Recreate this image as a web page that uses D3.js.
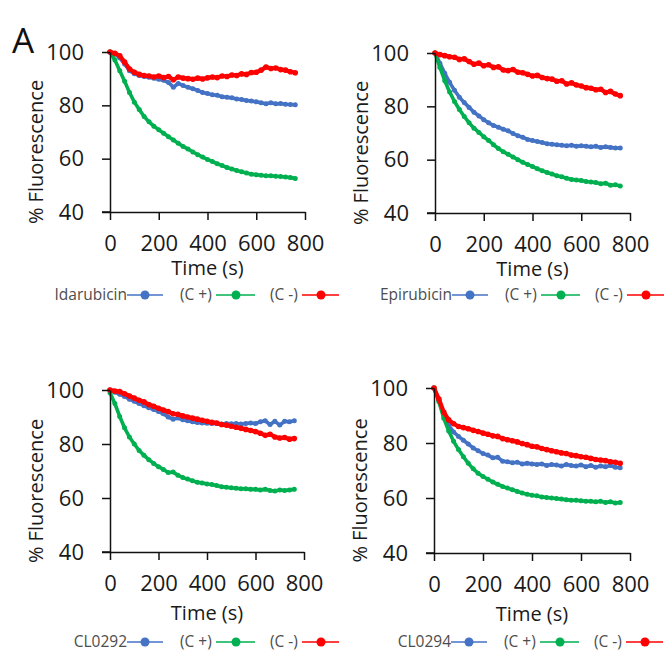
<!DOCTYPE html>
<html><head><meta charset="utf-8">
<script src="https://cdn.jsdelivr.net/npm/d3@7"></script>
<style>body{margin:0;background:#fff}svg{display:block}</style></head>
<body>
<svg id="c" width="664" height="663"></svg>
<script>
// ---- data ----
const timeS = [0,20,40,60,80,100,120,140,160,180,200,220,240,260,280,300,320,340,360,380,400,420,440,460,480,500,520,540,560,580,600,620,640,660,680,700,720,740,760];
const xTicks = [0,200,400,600,800];
const yTicks = [40,60,80,100];
const drugNames = ["Idarubicin","Epirubicin","CL0292","CL0294"];
const controlNames = ["(C +)","(C -)"];

const idarubicin = [100,99.3,97.8,95.5,93.0,91.8,91.2,90.8,90.5,90.2,89.8,89.4,88.6,86.8,88.2,87.4,86.8,86.2,85.6,84.8,84.4,84.0,83.8,83.2,83.0,82.8,82.4,82.2,81.8,81.6,81.3,81.0,80.6,81.0,80.6,80.7,80.4,80.3,80.2];
const idaPos = [100,97.0,93.0,89.0,84.8,81.2,78.4,75.8,73.8,72.2,70.8,69.5,68.2,67.0,65.8,64.6,63.6,62.5,61.5,60.6,59.7,58.9,58.1,57.4,56.7,56.1,55.6,55.1,54.6,54.2,54.0,53.8,53.6,53.6,53.4,53.3,53.1,52.9,52.6];
const idaNeg = [100,99.5,98.6,96.2,93.6,92.4,91.6,91.2,91.0,90.6,91.0,90.4,90.8,89.6,90.6,90.2,90.0,89.8,90.2,89.9,90.3,90.6,90.4,91.0,90.8,91.4,91.2,91.8,91.6,92.3,92.4,93.2,94.4,93.8,94.0,93.4,93.2,92.6,92.2];

const epirubicin = [100,96.2,92.4,89.0,86.0,83.4,81.4,79.6,77.8,76.4,75.0,73.8,72.8,72.2,71.4,70.8,69.8,69.0,68.4,67.6,67.2,66.8,66.4,66.0,65.8,65.6,65.4,65.2,65.4,65.0,65.2,65.0,64.8,65.0,64.6,64.8,64.6,64.4,64.4];
const epiPos = [100,94.6,89.6,85.4,81.8,78.8,76.2,73.8,71.8,70.2,68.6,67.2,65.6,64.2,63.0,62.0,61.0,60.0,59.0,58.2,57.4,56.6,55.8,55.2,54.6,54.0,53.6,53.0,52.6,52.4,52.2,51.8,51.6,51.4,51.0,51.2,50.4,50.6,50.1];
const epiNeg = [100,99.4,99.0,98.6,98.4,97.6,97.8,96.8,95.8,96.2,95.2,95.6,94.6,94.8,93.6,93.4,93.8,92.8,92.6,92.0,91.4,91.6,90.8,90.4,90.2,89.4,89.6,88.4,88.8,88.0,87.6,87.0,86.8,86.2,86.4,85.2,85.6,84.6,84.0];

const cl0292 = [100,99.2,98.4,97.6,96.6,95.8,95.0,94.2,93.4,92.8,92.0,91.2,90.0,89.2,89.6,89.0,88.6,88.2,88.0,87.8,87.7,87.6,87.6,87.4,87.6,87.5,87.6,87.4,87.6,87.8,87.6,88.2,88.6,87.2,88.4,87.0,88.4,88.2,88.6];
const cl92Pos = [99.0,95.0,90.2,86.0,82.6,80.0,77.6,75.8,74.2,72.8,71.6,70.6,69.4,69.6,68.4,67.6,67.0,66.4,65.8,65.6,65.2,65.0,64.6,64.2,64.0,63.8,63.6,63.4,63.4,63.2,63.2,63.0,63.2,62.8,62.6,63.0,62.8,63.0,63.2];
const cl92Neg = [100,99.6,99.4,98.6,97.8,97.0,96.2,95.6,94.6,94.0,93.2,92.6,92.0,91.2,91.0,90.4,90.0,89.6,89.2,88.8,88.4,88.0,87.8,87.2,87.0,86.6,86.2,85.8,85.4,85.0,84.6,84.0,83.2,83.6,82.6,82.2,82.4,81.8,82.0];

const cl0294 = [100,95.4,90.0,86.4,84.0,82.4,81.0,79.6,78.2,77.2,76.2,75.6,74.6,74.8,73.4,73.2,72.8,73.0,72.4,72.6,72.4,72.2,72.4,71.8,72.2,72.0,71.6,72.2,71.8,71.6,72.0,71.4,71.8,71.2,71.6,71.4,71.8,71.2,71.0];
const cl94Pos = [100,95.0,89.0,84.4,80.6,77.6,75.0,72.6,70.6,69.0,67.8,66.8,65.8,65.0,64.2,63.6,63.0,62.4,61.8,61.4,61.0,60.8,60.4,60.2,60.0,59.8,59.6,59.4,59.2,59.2,59.0,58.8,58.8,58.6,58.8,58.4,58.6,58.2,58.4];
const cl94Neg = [100,96.0,91.2,88.4,87.0,86.0,85.6,85.2,84.6,84.2,83.6,83.2,82.6,82.4,81.6,81.2,80.8,80.4,79.8,79.4,78.8,78.6,78.0,77.6,77.2,76.8,76.4,76.2,75.6,75.4,75.0,74.8,74.4,74.0,73.8,73.6,73.2,73.0,72.6];

const panelSeries = [
  [idarubicin, idaPos, idaNeg],
  [epirubicin, epiPos, epiNeg],
  [cl0292, cl92Pos, cl92Neg],
  [cl0294, cl94Pos, cl94Neg]
];

// ---- layout / style ----
const colors = ["#4472C4", "#00B050", "#FF0000"];
const layout = [
  {ax:110, right:305, top:52, bottom:212, legY:295, titleOff:63},
  {ax:435, right:630, top:53, bottom:213, legY:295, titleOff:63},
  {ax:110, right:304, top:390, bottom:552, legY:642, titleOff:68},
  {ax:434, right:630, top:388, bottom:553, legY:642, titleOff:68}
];
const FONT = "'Open Sans', 'DejaVu Sans', sans-serif";

const svg = d3.select("#c");
svg.append("rect").attr("width",664).attr("height",663).attr("fill","#fff");

svg.append("text").attr("x",12).attr("y",53)
  .attr("font-family",FONT).attr("font-size",35).attr("fill","#111").text("A");

layout.forEach((L, i) => {
  const g = svg.append("g");
  const x = d3.scaleLinear().domain([0,800]).range([L.ax, L.right]);
  const y = d3.scaleLinear().domain([40,100]).range([L.bottom, L.top]);

  // series
  const line = d3.line().x((d,k)=>x(timeS[k])).y(d=>y(d));
  [0,1,2].forEach(s => {
    const vals = panelSeries[i][s];
    g.append("path").attr("d", line(vals)).attr("fill","none")
      .attr("stroke", colors[s]).attr("stroke-width", s===2 ? 4.2 : 3.6).attr("stroke-linejoin","round");
    g.selectAll(null).data(vals).enter().append("circle")
      .attr("cx",(d,k)=>x(timeS[k])).attr("cy",d=>y(d)).attr("r", s===2 ? 2.8 : 2.5)
      .attr("fill",colors[s]);
  });

  // axes
  const ya = g.append("g").attr("transform",`translate(${L.ax},0)`)
    .call(d3.axisLeft(y).tickValues(yTicks).tickSize(8).tickSizeOuter(0).tickPadding(18));
  const xa = g.append("g").attr("transform",`translate(0,${L.bottom})`)
    .call(d3.axisBottom(x).tickValues(xTicks).tickSize(8).tickSizeOuter(0).tickPadding(15));
  [ya, xa].forEach(a => {
    a.selectAll("path,line").attr("stroke","#111").attr("stroke-width",1.5);
    a.selectAll("text").attr("font-family",FONT).attr("font-size",22).attr("fill","#1a1a1a");
  });
  g.append("line").attr("x1",L.ax-8).attr("x2",L.ax).attr("y1",L.bottom).attr("y2",L.bottom)
    .attr("stroke","#111").attr("stroke-width",1.5);

  // axis titles
  g.append("text").attr("x",(L.ax+L.right)/2).attr("y",L.bottom+L.titleOff)
    .attr("text-anchor","middle").attr("font-family",FONT).attr("font-size",20).attr("fill","#1a1a1a")
    .text("Time (s)");
  g.append("text")
    .attr("transform",`translate(${L.ax-74},${(L.top+L.bottom)/2+20}) rotate(-90)`)
    .attr("text-anchor","middle").attr("dy","0.35em")
    .attr("font-family",FONT).attr("font-size",20).attr("fill","#1a1a1a")
    .text("% Fluorescence");

  // legend
  const lg = g.append("g").attr("transform",`translate(${L.ax},${L.legY})`);
  const names = [drugNames[i], controlNames[0], controlNames[1]];
  const items = [
    {tx:17, anchor:"end", l1:17, l2:53, m:35},
    {tx:70, anchor:"start", l1:106, l2:145, m:126},
    {tx:160, anchor:"start", l1:192, l2:229, m:211}
  ];
  items.forEach((it, s) => {
    lg.append("text").attr("x",it.tx).attr("y",0).attr("dy","0.35em")
      .attr("text-anchor",it.anchor).attr("font-family",FONT).attr("font-size",15.5)
      .attr("fill","#4d4d4d").text(names[s]);
    lg.append("line").attr("x1",it.l1).attr("x2",it.l2).attr("y1",0).attr("y2",0)
      .attr("stroke",colors[s]).attr("stroke-width",1.6);
    lg.append("circle").attr("cx",it.m).attr("cy",0).attr("r",4.5).attr("fill",colors[s]);
  });
});
</script>
</body></html>
